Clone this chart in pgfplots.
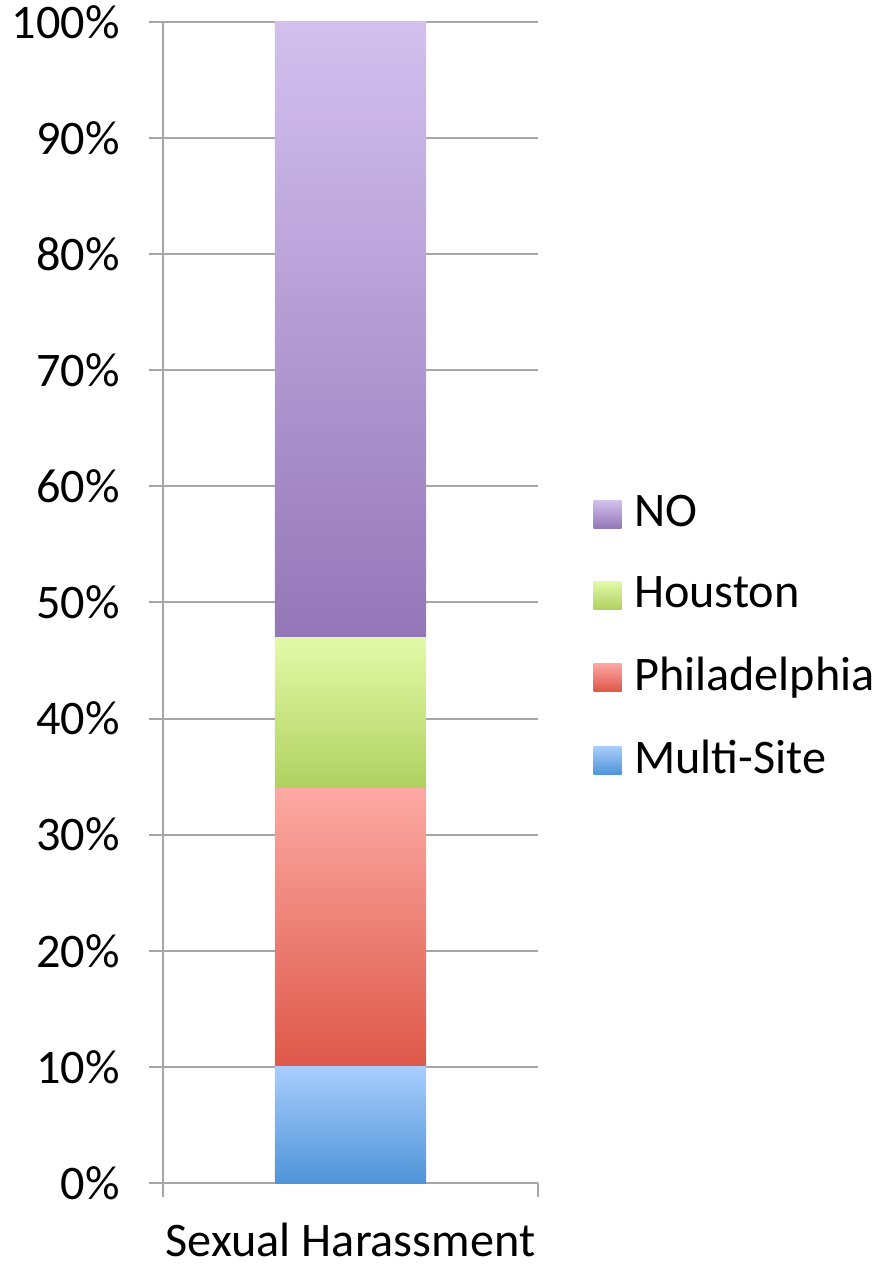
\documentclass[border=0pt]{standalone}
\usepackage{fontspec}
\setmainfont{Carlito}
\usepackage{pgfplots}
\pgfplotsset{compat=1.18}
\definecolor{noT}{HTML}{D3C0EE}
\definecolor{noB}{HTML}{9477B8}
\definecolor{hoT}{HTML}{E2FAA8}
\definecolor{hoB}{HTML}{B0D160}
\definecolor{phT}{HTML}{FCA9A3}
\definecolor{phB}{HTML}{DE5849}
\definecolor{msT}{HTML}{A8CDFD}
\definecolor{msB}{HTML}{4E94D8}
\definecolor{axgray}{HTML}{A6A6A6}
\begin{document}
\fontsize{24.2}{29}\selectfont
\begin{tikzpicture}
\path[use as bounding box] (-81.5bp,-41.5bp) rectangle (355.5bp,591.5bp);
\begin{axis}[
  at={(0,0)}, anchor=south west,
  scale only axis, width=187.5bp, height=580.5bp,
  xmin=0, xmax=1, ymin=0, ymax=100,
  ybar stacked, bar width=0.4027, bar shift=0pt,
  axis x line=bottom, axis y line=left,
  axis line style={draw=axgray, line width=1bp, -},
  ytick={0,10,...,100},
  yticklabel={\pgfmathprintnumber{\tick}\%},
  /pgf/number format/assume math mode=true,
  ymajorgrids, major grid style={draw=axgray, line width=1bp},
  major tick length=7bp, tick align=outside,
  ytick style={draw=axgray, line width=1bp},
  yticklabel style={font=\fontsize{24.2}{29}\selectfont, inner sep=0pt, xshift=-14.5bp},
  xtick={0.5}, xticklabels={Sexual Harassment},
  xtick style={draw=none},
  extra x ticks={0,1}, extra x tick labels={},
  extra x tick style={xtick style={draw=axgray, line width=1bp}, grid=none},
  xticklabel style={font=\fontsize{24.2}{29}\selectfont, inner sep=0pt, yshift=-13bp},
  clip=false,
  reverse legend,
  legend cell align=left,
  legend image code/.code={\path[#1] (0bp,-7bp) rectangle (14bp,7bp);},
  legend style={draw=none, at={(1.147,0.4695)}, anchor=west, inner sep=0pt,
    font=\fontsize{24.2}{29}\selectfont, row sep=21.3bp,
    nodes={inner xsep=6.3bp, inner ysep=0pt}},
]
\addplot[draw=none, top color=msT, bottom color=msB] coordinates {(0.5,10)};
\addlegendentry{Multi-Site}
\addplot[draw=none, top color=phT, bottom color=phB] coordinates {(0.5,24)};
\addlegendentry{Philadelphia}
\addplot[draw=none, top color=hoT, bottom color=hoB] coordinates {(0.5,13)};
\addlegendentry{Houston}
\addplot[draw=none, top color=noT, bottom color=noB] coordinates {(0.5,53)};
\addlegendentry{NO}
\end{axis}
\end{tikzpicture}
\end{document}
